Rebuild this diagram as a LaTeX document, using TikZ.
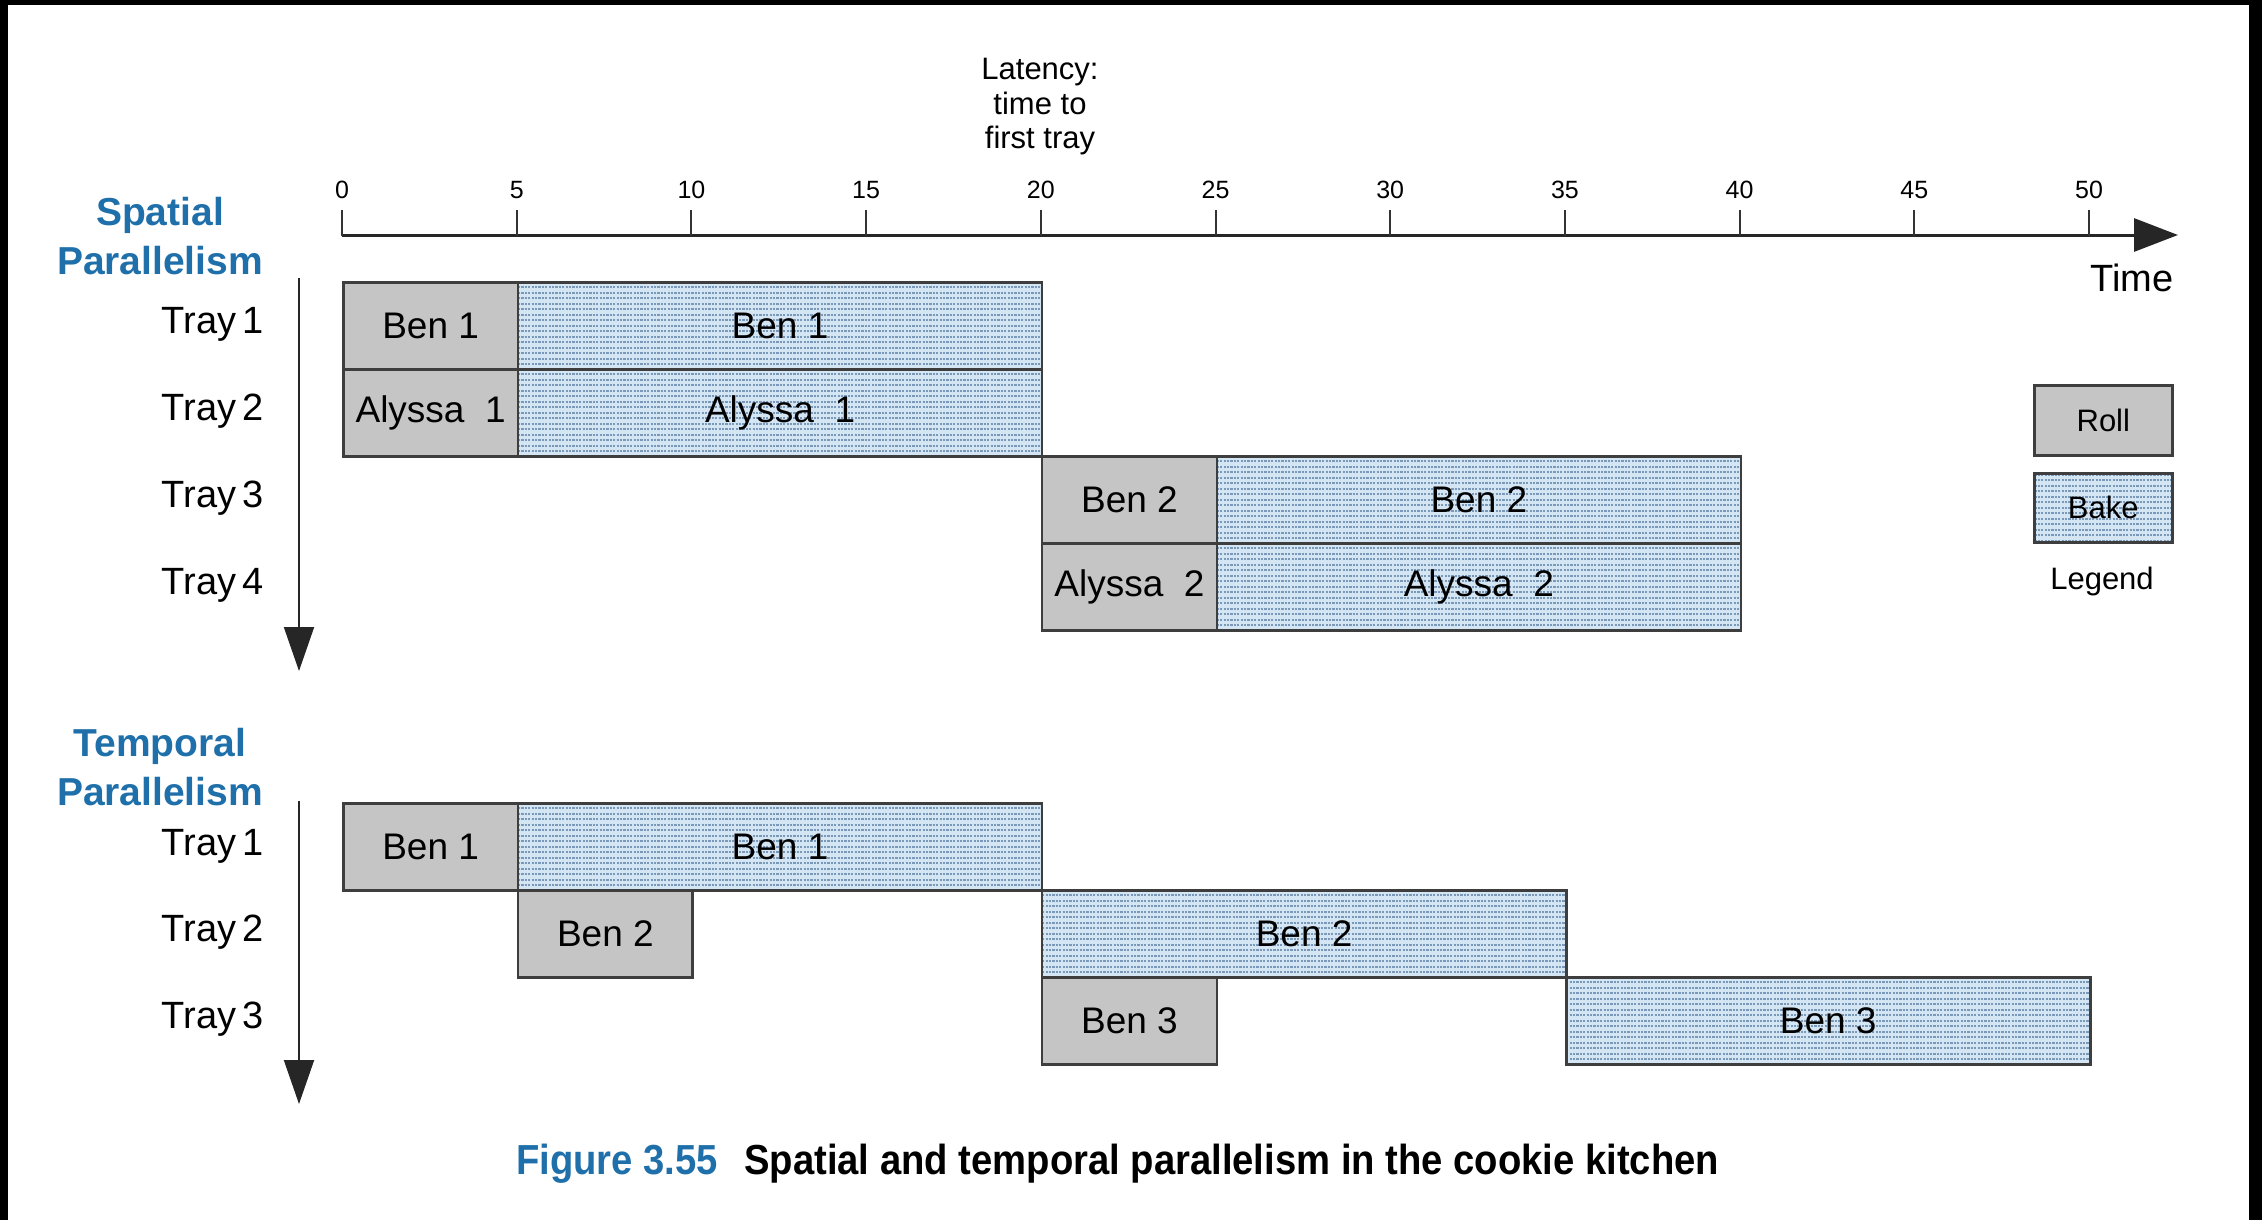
\documentclass[tikz,border=0pt]{standalone}
\usepackage{fontspec}
\setmainfont{Liberation Sans}
\usepackage{graphicx}
\usetikzlibrary{arrows.meta}

\definecolor{headblue}{RGB}{31,112,170}
\definecolor{rollgray}{RGB}{197,197,197}
\definecolor{bakeblue}{RGB}{212,229,244}
\definecolor{bakeline}{RGB}{122,152,184}
\definecolor{edgegray}{RGB}{62,62,62}

\newcommand\fsz[2]{\fontsize{#1}{#2}\selectfont}
% task bar: name, style, start time, end time, top edge, label
\newcommand\taskbox[6]{%
  \node[#2, minimum width={34.94pt*(#4-#3)}] (#1) at ({342+34.94*#3},#5) {#6};}

\begin{document}
\begin{tikzpicture}[x=1pt,y=-1pt,
  boxbase/.style={draw=edgegray, line width=2.6pt, inner sep=0pt,
    anchor=north west, minimum height=87pt, font=\fsz{37}{44}},
  rollbox/.style={boxbase, fill=rollgray},
  bakebox/.style={boxbase, fill=bakeblue,
    path picture={
      \foreach \k in {-8,...,8}
        \draw[bakeline, line width=1.7pt, dash pattern=on 2.2pt off 1.2pt]
          ([yshift=\k*5.5pt]path picture bounding box.west) --
          ([yshift=\k*5.5pt]path picture bounding box.east);
    }},
  traylabel/.style={anchor=east, font=\fsz{38}{44}, inner sep=0pt},
  sectlabel/.style={align=center, font=\bfseries\fsz{39}{49}, text=headblue},
  ticklabel/.style={font=\fsz{25}{30}, inner sep=0pt},
  downarrow/.style={draw=black!85, line width=2pt,
    -{Triangle[width=30pt,length=44pt]}},
]
% page and frame strips
\fill[white] (0,0) rectangle (2262,1220);
\fill[black] (0,0) rectangle (2262,5);
\fill[black] (0,0) rectangle (8,1220);
\fill[black] (2249,0) rectangle (2262,1220);
\useasboundingbox (0,0) rectangle (2262,1220);

% time axis with ticks
\coordinate (axstart) at (342,235);
\coordinate (axend) at (2178,235);
\draw[black!85, line width=3pt, -{Triangle[width=33pt,length=44pt]}] (axstart) -- (axend);
\foreach \k [evaluate=\k as \v using int(5*\k)] in {0,...,10}{
  \draw[black!80, line width=2pt] ({342+174.7*\k},236) -- ({342+174.7*\k},210);
  \node[ticklabel] (tick\k) at ({342+174.7*\k},190) {\v};
}
\node[font=\fsz{38}{44}] (timelbl) at (2132,278) {Time};
\node[align=center, font=\fsz{31}{34.5}] (latency) at (1040,107) {Latency:\\time to\\first tray};

% spatial parallelism
\node[sectlabel] (spatial) at (160,236) {Spatial\\Parallelism};
\coordinate (sptop) at (299,278);
\coordinate (spend) at (299,671);
\draw[downarrow] (sptop) -- (spend);
\node[traylabel] (sp1) at (264,324) {Tray\,1};
\node[traylabel] (sp2) at (264,411) {Tray\,2};
\node[traylabel] (sp3) at (264,498) {Tray\,3};
\node[traylabel] (sp4) at (264,585) {Tray\,4};

\taskbox{sbR1}{rollbox}{0}{5}{281}{Ben 1}
\taskbox{sbB1}{bakebox}{5}{20}{281}{Ben 1}
\taskbox{saR1}{rollbox}{0}{5}{368}{Alyssa\ \ 1}
\taskbox{saB1}{bakebox}{5}{20}{368}{Alyssa\ \ 1}
\taskbox{sbR2}{rollbox}{20}{25}{455}{Ben 2}
\taskbox{sbB2}{bakebox}{25}{40}{455}{Ben 2}
\taskbox{saR2}{rollbox}{20}{25}{542}{Alyssa\ \ 2}
\taskbox{saB2}{bakebox}{25}{40}{542}{Alyssa\ \ 2}

% legend
\node[rollbox, minimum width=138pt, minimum height=70pt, font=\fsz{31}{36}] (legroll) at (2033,384) {Roll};
\node[bakebox, minimum width=138pt, minimum height=69pt, font=\fsz{31}{36}] (legbake) at (2033,472) {Bake};
\node[font=\fsz{31}{36}] (legend) at (2102,581) {Legend};

% temporal parallelism
\node[sectlabel] (temporal) at (160,767) {Temporal\\Parallelism};
\coordinate (tptop) at (299,801);
\coordinate (tpend) at (299,1104);
\draw[downarrow] (tptop) -- (tpend);
\node[traylabel] (tp1) at (264,846) {Tray\,1};
\node[traylabel] (tp2) at (264,932) {Tray\,2};
\node[traylabel] (tp3) at (264,1019) {Tray\,3};

\taskbox{tbR1}{rollbox}{0}{5}{802}{Ben 1}
\taskbox{tbB1}{bakebox}{5}{20}{802}{Ben 1}
\taskbox{tbR2}{rollbox}{5}{10}{889}{Ben 2}
\taskbox{tbB2}{bakebox}{20}{35}{889}{Ben 2}
\taskbox{tbR3}{rollbox}{20}{25}{976}{Ben 3}
\taskbox{tbB3}{bakebox}{35}{50}{976}{Ben 3}

% caption
\node[anchor=west, inner sep=0pt, text=headblue, font=\bfseries\fsz{42}{48}] (capnum) at (516,1164)
  {\scalebox{0.91}[1]{Figure 3.55}};
\node[anchor=west, inner sep=0pt, font=\bfseries\fsz{42}{48}] (captext) at (744,1164)
  {\scalebox{0.91}[1]{Spatial and temporal parallelism in the cookie kitchen}};
\end{tikzpicture}
\end{document}
